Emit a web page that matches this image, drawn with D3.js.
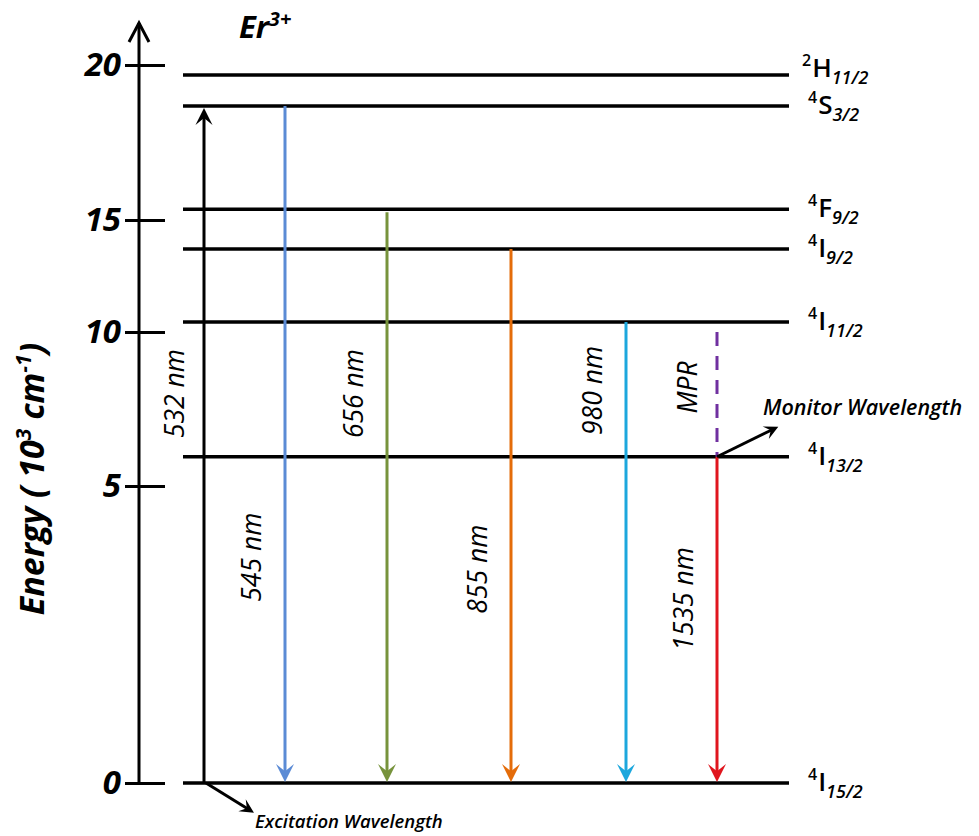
<!DOCTYPE html>
<html>
<head>
<meta charset="utf-8">
<script src="https://cdn.jsdelivr.net/npm/d3@7"></script>
<style>
  body { margin: 0; background: #fff; }
  text { font-family: "Open Sans", sans-serif; fill: #000; }
</style>
</head>
<body>
<div id="root"></div>
<script>
// energy axis (10^3 cm^-1)
const tickValues = [0, 5, 10, 15, 20]

// Er3+ levels, top to bottom
const levelSup = ['2', '4', '4', '4', '4', '4', '4']
const levelLetter = ['H', 'S', 'F', 'I', 'I', 'I', 'I']
const levelSub = ['11/2', '3/2', '9/2', '9/2', '11/2', '13/2', '15/2']
const levelEnergy = [19.68, 18.68, 15.35, 13.7, 10.45, 5.95, 0]

// emissions down to the ground state 4I15/2
const emissionLabels = ['545 nm', '656 nm', '855 nm', '980 nm', '1535 nm']
const emissionFrom = [1, 2, 3, 4, 5]          // index into levels
const emissionColors = ['#5b8bd5', '#77933c', '#e46c0a', '#1ca7dd', '#e0161e']
const emissionLabelAt = [3.8, 8.0, 3.6, 8.1, 3.1]

// excitation 4I15/2 -> 4S3/2
const excitationLabel = '532 nm'
const excitationTo = 1
const excitationLabelAt = 8.0

// multiphonon relaxation 4I11/2 -> 4I13/2
const mprLabel = 'MPR'
const mprFrom = 4
const mprTo = 5
const mprLabelAt = 8.2

const width = 979
const height = 836

const svg = d3.select('#root').append('svg')
    .attr('width', width).attr('height', height)

// the original axis is hand drawn, ticks are not evenly spaced
const y = d3.scaleLinear()
    .domain(tickValues)
    .range([783, 486, 332, 220, 65])

const levelX0 = 183
const levelX1 = 789
// columns of the diagram (no real x quantity)
const x = d3.scaleOrdinal()
    .domain(emissionLabels)
    .range([285, 387, 511, 626, 717])

const defs = svg.append('defs')
const addHead = (id, color, size) => {
    defs.append('marker')
        .attr('id', id)
        .attr('viewBox', '-20 -11 22 22')
        .attr('refX', -7).attr('refY', 0)
        .attr('markerWidth', 22).attr('markerHeight', 22)
        .attr('markerUnits', 'userSpaceOnUse')
        .attr('orient', 'auto')
        .append('path')
        .attr('d', `M0,0L${-size},${-size / 2}L${-size * 0.6},0L${-size},${size / 2}Z`)
        .attr('fill', color)
}
emissionColors.forEach((c, i) => addHead('head-' + i, c, 18))
addHead('head-black', '#000', 17)
addHead('head-small', '#000', 14)

// axis line with open arrow on top
svg.append('line')
    .attr('x1', 139).attr('x2', 139)
    .attr('y1', y(0)).attr('y2', 23)
    .attr('stroke', '#000').attr('stroke-width', 3)
svg.append('path')
    .attr('d', 'M129,42L139,23L149,42')
    .attr('fill', 'none').attr('stroke', '#000').attr('stroke-width', 3)

const yAxis = d3.axisLeft(y)
    .tickValues(tickValues)
    .tickSize(40)
    .tickPadding(4)
    .tickFormat(d3.format('d'))

svg.append('g')
    .attr('transform', 'translate(165,0)')
    .call(yAxis)
    .call(g => g.select('.domain').remove())
    .call(g => g.selectAll('.tick line').attr('stroke', '#000').attr('stroke-width', 3))
    .call(g => g.selectAll('.tick text')
        .attr('font-family', '"Open Sans", sans-serif')
        .attr('font-size', 33)
        .attr('font-weight', 700)
        .attr('font-style', 'italic')
        .attr('fill', '#000'))

// y title
const title = svg.append('text')
    .attr('transform', `translate(32,${479}) rotate(-90)`)
    .attr('text-anchor', 'middle')
    .attr('dy', '0.35em')
    .attr('font-size', 34)
    .attr('font-weight', 700)
    .attr('font-style', 'italic')
title.append('tspan').text('Energy ( 10')
title.append('tspan').attr('font-size', 21).attr('dy', -13).text('3')
title.append('tspan').attr('dy', 13).text(' cm')
title.append('tspan').attr('font-size', 21).attr('dy', -13).text('-1')
title.append('tspan').attr('dy', 13).text(')')

// ion label
const ion = svg.append('text')
    .attr('x', 239).attr('y', 38)
    .attr('font-size', 31)
    .attr('font-weight', 700)
    .attr('font-style', 'italic')
ion.append('tspan').text('Er')
ion.append('tspan').attr('font-size', 20).attr('dy', -12).text('3+')

// levels
const levels = levelEnergy.map((e, i) => ({
    e, sup: levelSup[i], letter: levelLetter[i], sub: levelSub[i]
}))

svg.selectAll('.level').data(levels).enter().append('line')
    .attr('class', 'level')
    .attr('x1', levelX0).attr('x2', levelX1)
    .attr('y1', d => y(d.e)).attr('y2', d => y(d.e))
    .attr('stroke', '#000').attr('stroke-width', 3.5)

const lab = svg.selectAll('.level-label').data(levels).enter().append('text')
    .attr('class', 'level-label')
    .attr('x', (d, i) => i === 0 ? 802 : 808)
    .attr('y', (d, i) => y(d.e) + (i === 0 ? 2 : 8))
    .attr('font-weight', 600)
    .attr('font-size', 26)
lab.append('tspan').attr('font-size', 16).attr('dy', -11).text(d => d.sup)
lab.append('tspan').attr('dy', 11).attr('dx', 1).text(d => d.letter)
lab.append('tspan').attr('font-size', 18).attr('font-style', 'italic').attr('dy', 7).text(d => d.sub)

// excitation arrow
const exX = 204
svg.append('line')
    .attr('x1', exX).attr('x2', exX)
    .attr('y1', y(0)).attr('y2', y(levelEnergy[excitationTo]) + 9)
    .attr('stroke', '#000').attr('stroke-width', 3)
    .attr('marker-end', 'url(#head-black)')

const vLabel = (cx, e, t) => svg.append('text')
    .attr('transform', `translate(${cx},${y(e)}) rotate(-90)`)
    .attr('text-anchor', 'middle')
    .attr('dy', '0.35em')
    .attr('font-size', 26.5)
    .attr('font-style', 'italic')
    .text(t)

vLabel(exX - 29, excitationLabelAt, excitationLabel)

// emission arrows
const emissions = emissionLabels.map((l, i) => ({
    label: l, from: levelEnergy[emissionFrom[i]], color: emissionColors[i], at: emissionLabelAt[i], i
}))

svg.selectAll('.emission').data(emissions).enter().append('line')
    .attr('class', 'emission')
    .attr('x1', d => x(d.label)).attr('x2', d => x(d.label))
    .attr('y1', d => y(d.from) + (d.i === 1 ? 3 : 0))
    .attr('y2', y(0) - 8)
    .attr('stroke', d => d.color).attr('stroke-width', 3)
    .attr('marker-end', d => `url(#head-${d.i})`)

emissions.forEach(d => vLabel(x(d.label) - 33, d.at, d.label))

// MPR dashed
const mprX = x(emissionLabels[4])
svg.append('line')
    .attr('x1', mprX).attr('x2', mprX)
    .attr('y1', y(levelEnergy[mprFrom]) + 10)
    .attr('y2', y(levelEnergy[mprTo]))
    .attr('stroke', '#7030a0').attr('stroke-width', 3)
    .attr('stroke-dasharray', '14,10')
vLabel(mprX - 29, mprLabelAt, mprLabel)

// monitor wavelength pointer
const monY = y(levelEnergy[mprTo])
svg.append('line')
    .attr('x1', mprX).attr('y1', monY)
    .attr('x2', mprX + 55).attr('y2', monY - 27)
    .attr('stroke', '#000').attr('stroke-width', 3)
    .attr('marker-end', 'url(#head-small)')
svg.append('text')
    .attr('x', 763).attr('y', 415)
    .attr('font-size', 21.5)
    .attr('font-weight', 600)
    .attr('font-style', 'italic')
    .text('Monitor Wavelength')

// excitation wavelength pointer
svg.append('line')
    .attr('x1', exX + 2).attr('y1', y(0))
    .attr('x2', exX + 44).attr('y2', y(0) + 26)
    .attr('stroke', '#000').attr('stroke-width', 3)
    .attr('marker-end', 'url(#head-small)')
svg.append('text')
    .attr('x', 255).attr('y', 828)
    .attr('font-size', 18.5)
    .attr('font-weight', 600)
    .attr('font-style', 'italic')
    .text('Excitation Wavelength')
</script>
</body>
</html>
